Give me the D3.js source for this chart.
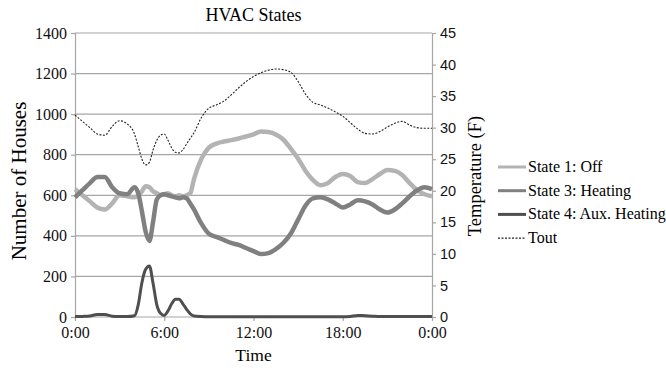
<!DOCTYPE html>
<html>
<head>
<meta charset="utf-8">
<script src="https://cdn.jsdelivr.net/npm/d3@7"></script>
<style>
  body { margin: 0; background: #fff; }
  svg { display: block; }
</style>
</head>
<body>
<svg id="chart" width="666" height="368"></svg>
<script>
// hours of the day (denser sampling around the morning peaks)
var hours = [0, 0.5, 1, 1.5, 2, 2.5, 3, 3.5,
  4, 4.25, 4.5, 4.75, 5, 5.25, 5.5, 5.75, 6, 6.25, 6.5, 6.75, 7, 7.25, 7.5, 7.75,
  8, 8.5, 9, 9.5, 10, 10.5, 11, 11.5, 12, 12.5, 13, 13.5, 14, 14.5, 15, 15.5,
  16, 16.5, 17, 17.5, 18, 18.5, 19, 19.5, 20, 20.5, 21, 21.5, 22, 22.5, 23, 23.5, 24];

var stateOff = [630, 600, 570, 540, 530, 560, 600, 595,
  590, 600, 620, 645, 640, 620, 610, 600, 605, 610, 600, 595, 600, 595, 600, 610,
  680, 780, 835, 855, 865, 872, 880, 890, 900, 915, 912, 900, 875, 830, 780, 720,
  675, 650, 660, 690, 705, 695, 665, 660, 680, 705, 725, 720, 700, 660, 625, 605, 595];

var stateHeating = [590, 625, 660, 690, 690, 640, 610, 605,
  640, 610, 520, 420, 375, 470, 580, 600, 605, 600, 595, 590, 585, 590, 585, 560,
  530, 460, 410, 395, 380, 365, 355, 340, 325, 310, 315, 335, 365, 410, 480, 550,
  585, 590, 580, 560, 540, 555, 575, 570, 555, 530, 515, 530, 560, 595, 625, 640, 630];

var stateAux = [2, 3, 5, 12, 12, 4, 2, 2,
  6, 60, 170, 235, 252, 165, 60, 18, 8, 30, 65, 88, 88, 65, 38, 15,
  5, 2, 1, 1, 1, 1, 1, 1, 1, 1, 1, 1, 1, 1, 1, 1,
  1, 1, 1, 1, 1, 3, 8, 6, 4, 2, 2, 2, 2, 2, 2, 2, 2];

var tout = [32.0, 31.0, 30.0, 29.0, 28.8, 30.2, 31.1, 30.6,
  29.0, 27.0, 25.0, 24.1, 24.5, 26.5, 28.0, 28.8, 29.0, 28.0, 26.8, 26.1, 26.0, 26.5, 27.4, 28.3,
  29.2, 31.6, 33.1, 33.6, 34.2, 35.2, 36.3, 37.3, 38.1, 38.7, 39.1, 39.3, 39.2, 38.8, 37.3, 35.3,
  34.0, 33.6, 33.1, 32.5, 31.8, 30.8, 29.8, 29.1, 29.0, 29.4, 30.1, 30.7, 31.0, 30.4, 30.0, 29.9, 29.9];

var houseTicks = [0, 200, 400, 600, 800, 1000, 1200, 1400];
var tempTicks = [0, 5, 10, 15, 20, 25, 30, 35, 40, 45];
var timeTicks = [0, 6, 12, 18, 24];
var timeLabels = ["0:00", "6:00", "12:00", "18:00", "0:00"];

var legendNames = ["State 1: Off", "State 3: Heating", "State 4: Aux. Heating", "Tout"];
var serif = "'Liberation Serif', 'DejaVu Serif', serif";

var svg = d3.select("#chart");
var plotLeft = 75, plotRight = 432, plotTop = 33, plotBottom = 317;

var x = d3.scaleLinear().domain([0, 24]).range([plotLeft, plotRight]);
var yHouses = d3.scaleLinear().domain([0, 1400]).range([plotBottom, plotTop]);
var yTemp = d3.scaleLinear().domain([0, 45]).range([plotBottom, plotTop]);

// gridlines
svg.append("g")
    .selectAll("line")
    .data(houseTicks)
    .enter().append("line")
    .attr("x1", plotLeft).attr("x2", plotRight)
    .attr("y1", function(d) { return yHouses(d); })
    .attr("y2", function(d) { return yHouses(d); })
    .attr("stroke", "#a6a6a6")
    .attr("stroke-width", 1.2);

// axes
var leftAxis = svg.append("g")
    .attr("transform", "translate(" + plotLeft + ",0)")
    .call(d3.axisLeft(yHouses).tickValues(houseTicks).tickSize(4).tickPadding(4)
        .tickFormat(d3.format("d")));

var rightAxis = svg.append("g")
    .attr("transform", "translate(" + plotRight + ",0)")
    .call(d3.axisRight(yTemp).tickValues(tempTicks).tickSize(4).tickPadding(4));

var bottomAxis = svg.append("g")
    .attr("transform", "translate(0," + plotBottom + ")")
    .call(d3.axisBottom(x).tickValues(timeTicks).tickSize(4).tickPadding(6)
        .tickFormat(function(d, i) { return timeLabels[i]; }));

[leftAxis, rightAxis, bottomAxis].forEach(function(g) {
    g.selectAll("path, line").attr("stroke", "#a6a6a6").attr("stroke-width", 1.2);
    g.selectAll("text").attr("fill", "#111");
});
leftAxis.selectAll("text").style("font-family", serif).style("font-size", "16px");
bottomAxis.selectAll("text").style("font-family", serif).style("font-size", "16px");
rightAxis.selectAll("text").style("font-family", "'Liberation Sans', Arial, sans-serif").style("font-size", "14.5px");
bottomAxis.select(".domain").remove();

// series
var series = [
    { values: stateOff, scale: yHouses, color: "#b3b3b3", width: 4.5, dash: null },
    { values: stateHeating, scale: yHouses, color: "#808080", width: 4.5, dash: null },
    { values: stateAux, scale: yHouses, color: "#4f4f4f", width: 3, dash: null },
    { values: tout, scale: yTemp, color: "#222", width: 1.1, dash: "2,1.5" }
];

series.forEach(function(s) {
    var line = d3.line()
        .x(function(d, i) { return x(hours[i]); })
        .y(function(d) { return s.scale(d); })
        .curve(d3.curveMonotoneX);
    svg.append("path")
        .datum(s.values)
        .attr("d", line)
        .attr("fill", "none")
        .attr("stroke", s.color)
        .attr("stroke-width", s.width)
        .attr("stroke-dasharray", s.dash);
});

// title and axis labels
svg.append("text")
    .attr("x", (plotLeft + plotRight) / 2).attr("y", 21)
    .attr("text-anchor", "middle")
    .style("font-family", serif).style("font-size", "18px")
    .text("HVAC States");

svg.append("text")
    .attr("transform", "translate(26,181) rotate(-90)")
    .attr("text-anchor", "middle")
    .style("font-family", serif).style("font-size", "21px")
    .text("Number of Houses");

svg.append("text")
    .attr("transform", "translate(481,176) rotate(-90)")
    .attr("text-anchor", "middle")
    .style("font-family", serif).style("font-size", "18.5px")
    .text("Temperature (F)");

svg.append("text")
    .attr("x", (plotLeft + plotRight) / 2).attr("y", 361)
    .attr("text-anchor", "middle")
    .style("font-family", serif).style("font-size", "17.5px")
    .text("Time");

// legend
var legend = svg.append("g")
    .selectAll("g")
    .data(series)
    .enter().append("g")
    .attr("transform", function(d, i) { return "translate(498," + (167 + i * 23.7) + ")"; });

legend.append("line")
    .attr("x1", 0).attr("x2", 28)
    .attr("stroke", function(d) { return d.color; })
    .attr("stroke-width", function(d) { return Math.min(d.width, 3); })
    .attr("stroke-dasharray", function(d) { return d.dash; });

legend.append("text")
    .attr("x", 30).attr("y", 5)
    .style("font-family", serif).style("font-size", "16px")
    .text(function(d, i) { return legendNames[i]; });
</script>
</body>
</html>
